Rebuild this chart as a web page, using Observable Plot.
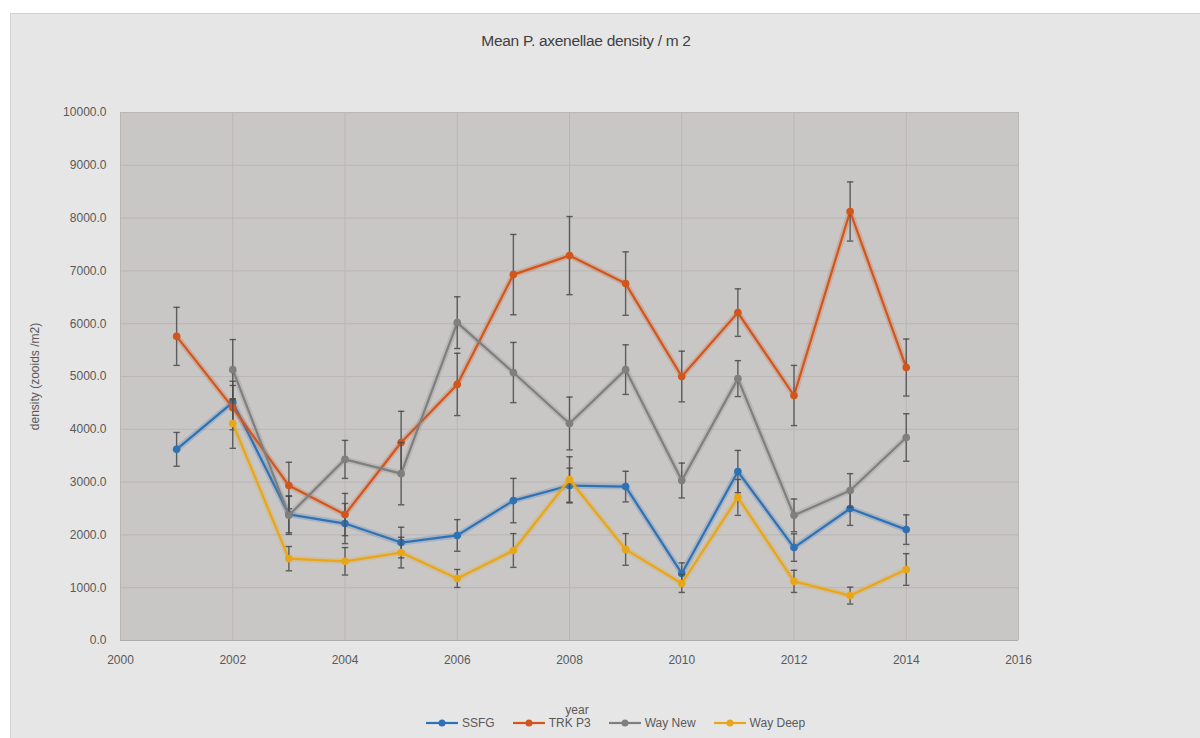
<!DOCTYPE html>
<html>
<head>
<meta charset="utf-8">
<script src="https://cdn.jsdelivr.net/npm/d3@7"></script>
<script src="https://cdn.jsdelivr.net/npm/@observablehq/plot@0.6"></script>
<style>
  body { margin: 0; background: #ffffff; font-family: "Liberation Sans", Arial, sans-serif; }
  #wrap { position: relative; width: 1200px; height: 738px; overflow: hidden; }
  #bg { position: absolute; left: 10px; top: 13px; width: 1200px; height: 740px; background: #e6e6e6; border: 1px solid #d2d2d2; box-sizing: border-box; }
  #chart { position: absolute; left: 0; top: 0; }
  #title { position: absolute; top: 32px; left: 386px; width: 400px; text-align: center; font-size: 15.5px; letter-spacing: -0.3px; color: #404040; }
  #xlabel { position: absolute; top: 703px; left: 527px; width: 100px; text-align: center; font-size: 12px; color: #595959; }
  #legend { position: absolute; top: 716px; left: 426px; display: flex; align-items: center; font-size: 12px; color: #595959; }
  .item { display: flex; align-items: center; margin-right: 18px; }
  .item svg { margin-right: 4px; }
</style>
</head>
<body>
<div id="wrap">
  <div id="bg"></div>
  <div id="chart"></div>
  <div id="title">Mean P. axenellae density / m 2</div>
  <div id="xlabel">year</div>
  <div id="legend"></div>
</div>
<script>
// ---- data ----
const years = [2001, 2002, 2003, 2004, 2005, 2006, 2007, 2008, 2009, 2010, 2011, 2012, 2013, 2014];
const seriesNames = ["SSFG", "TRK P3", "Way New", "Way Deep"];
const seriesColors = ["#2f72b4", "#d2561c", "#7f7f7f", "#e8a719"];

const ssfg      = [3620, 4510, 2390, 2215, 1855, 1990, 2650, 2935, 2915, 1270, 3200, 1760, 2500, 2100];
const ssfgErr   = [ 320,  400,  350,  380,  290,  300,  420,  330,  290,  200,  400,  260,  320,  280];
const trkP3     = [5760, 4410, 2935, 2385, 3750, 4850, 6930, 7290, 6760, 5000, 6210, 4640, 8125, 5170];
const trkP3Err  = [ 550,  420,  440,  400,  590,  590,  760,  740,  600,  480,  450,  570,  560,  540];
const wayNew    = [null, 5130, 2370, 3430, 3160, 6020, 5075, 4110, 5130, 3030, 4960, 2370, 2840, 3845];
const wayNewErr = [null,  570,  360,  360,  590,  490,  570,  500,  470,  330,  340,  310,  320,  450];
const wayDeep   = [null, 4110, 1550, 1500, 1665, 1175, 1705, 3050, 1725, 1080, 2710, 1120,  850, 1345];
const wayDeepErr= [null,  470,  230,  260,  290,  170,  320,  430,  300,  170,  340,  210,  160,  300];

const yTicks = [0, 1000, 2000, 3000, 4000, 5000, 6000, 7000, 8000, 9000, 10000];
const xTicks = [2000, 2002, 2004, 2006, 2008, 2010, 2012, 2014, 2016];
const yTitle = "density (zooids /m2)";

// ---- build rows ----
const valueSets = [ssfg, trkP3, wayNew, wayDeep];
const errSets = [ssfgErr, trkP3Err, wayNewErr, wayDeepErr];
const bySeries = seriesNames.map((name, s) =>
  years.map((year, i) => ({series: name, year, value: valueSets[s][i], err: errSets[s][i]}))
       .filter(d => d.value != null)
);

const cap = {
  draw(ctx, size) {
    const r = Math.sqrt(size / Math.PI);
    ctx.moveTo(-r, 0);
    ctx.lineTo(r, 0);
  }
};

const errColor = "#4a4a4a";
const seriesMarks = bySeries.flatMap((rows, s) => {
  const c = seriesColors[s];
  return [
    Plot.line(rows, {x: "year", y: "value", stroke: c, strokeWidth: 6, strokeOpacity: 0.22}),
    Plot.line(rows, {x: "year", y: "value", stroke: c, strokeWidth: 2.2}),
    Plot.ruleX(rows, {x: "year", y1: d => d.value - d.err, y2: d => d.value + d.err, stroke: errColor, strokeWidth: 1.4, strokeOpacity: 0.85}),
    Plot.dot(rows, {x: "year", y: d => d.value + d.err, symbol: cap, r: 3.2, stroke: errColor, strokeWidth: 1.4, strokeOpacity: 0.85, fill: "none"}),
    Plot.dot(rows, {x: "year", y: d => d.value - d.err, symbol: cap, r: 3.2, stroke: errColor, strokeWidth: 1.4, strokeOpacity: 0.85, fill: "none"}),
    Plot.dot(rows, {x: "year", y: "value", r: 3.8, fill: c, stroke: null})
  ];
});

const chart = Plot.plot({
  width: 1200,
  height: 738,
  marginLeft: 120,
  marginRight: 182,
  marginTop: 112,
  marginBottom: 98,
  x: {domain: [2000, 2016]},
  y: {domain: [0, 10000]},
  style: {background: "transparent", fontFamily: "'Liberation Sans', Arial, sans-serif", fontSize: "12px", color: "#595959"},
  marks: [
    Plot.frame({fill: "#c9c6c6", stroke: null}),
    Plot.ruleY(yTicks, {stroke: "#bab6b6", strokeWidth: 1}),
    Plot.ruleX(xTicks, {stroke: "#bab6b6", strokeWidth: 1}),
    Plot.ruleY([0], {stroke: "#b0acac", strokeWidth: 1}),
    Plot.axisY(yTicks, {tickSize: 0, tickPadding: 14, tickFormat: d => d.toFixed(1), label: null, fill: "#595959"}),
    Plot.axisX(xTicks, {tickSize: 0, tickPadding: 15, tickFormat: d => String(d), label: null, fill: "#595959"}),
    Plot.text([yTitle], {frameAnchor: "left", dx: -85, rotate: -90, textAnchor: "middle", fill: "#595959", fontSize: 12}),
    ...seriesMarks
  ]
});
document.getElementById("chart").appendChild(chart);

// ---- legend ----
const legend = document.getElementById("legend");
seriesNames.forEach((name, s) => {
  const item = document.createElement("div");
  item.className = "item";
  item.innerHTML = `<svg width="32" height="14"><line x1="0" y1="7" x2="32" y2="7" stroke="${seriesColors[s]}" stroke-width="2.2"/><circle cx="16" cy="7" r="3.5" fill="${seriesColors[s]}"/></svg><span>${name}</span>`;
  legend.appendChild(item);
});
</script>
</body>
</html>
